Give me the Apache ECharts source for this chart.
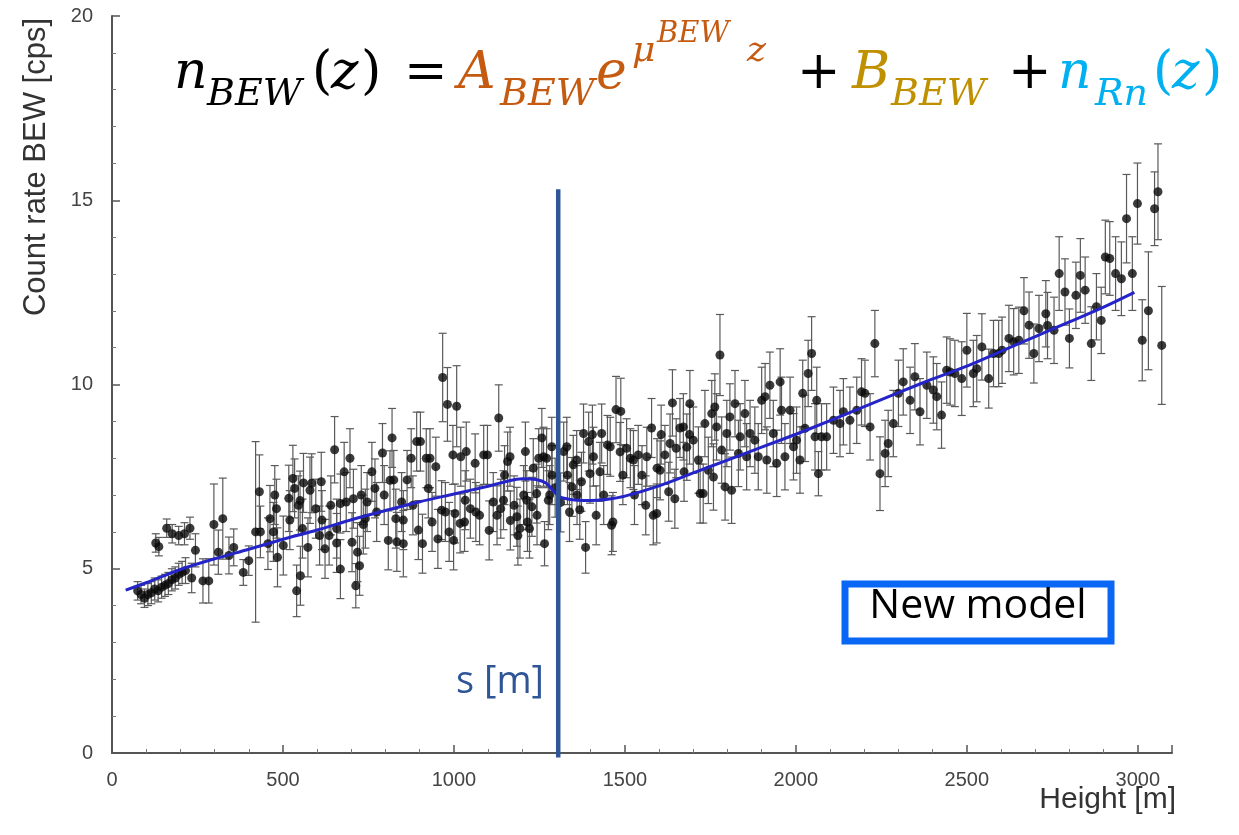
<!DOCTYPE html>
<html>
<head>
<meta charset="utf-8">
<script src="https://cdn.jsdelivr.net/npm/echarts@6/dist/echarts.min.js"></script>
<style>
html,body{margin:0;padding:0;background:#fff;}
#chart{width:1239px;height:835px;}
</style>
</head>
<body>
<div id="chart"></div>
<script>
// ---- Data ----
const heights = [
  75,85,95,105,115,125,135,145,155,165,175,185,195,205,215,233,128,137,160,176,195,212,228,244,266,283,298,
  311,324,342,356,384,400,420,431,434,456,462,476,481,484,501,517,529,534,540,545,
  551,557,573,579,584,596,607,612,623,635,640,651,657,668,679,685,696,702,713,718,
  724,729,741,746,760,769,774,791,796,808,819,824,830,847,852,863,875,880,891,902,
  908,919,925,930,936,947,953,964,967,975,981,986,997,1003,1008,1020,1031,1036,1048,1064,
  1075,1087,1098,1103,1115,1126,1131,1137,1148,1157,1165,1176,1187,1193,1204,1209,1215,1221,1232,1243,
  1248,1257,1265,1271,1280,1287,1296,1312,
  1321,1332,1338,1349,1360,1368,1373,1385,1394,1405,1416,1427,1438,1449,1461,1465,1474,1488,1494,1505,
  1516,1528,1539,1550,1561,1578,1583,1594,1606,1617,1628,1639,1646,1650,1661,1673,1689,
  1671,1681,1690,1700,1715,1720,1729,1734,1744,1754,1759,1763,1768,1778,1783,1793,1798,1807,1812,1822,
  1832,1837,1851,1856,1866,1880,1890,1900,1910,1915,1924,1934,1944,1954,1958,1968,1983,1993,2002,2012,
  2020,2027,2036,2046,2056,2061,2066,2075,2090,2110,2129,2139,2158,2178,2192,2202,2217,2231,2246,2261,
  2270,2285,2300,2314,2334,2348,2363,2383,2402,2412,2426,2441,2451,2465,
  2485,2500,2519,2529,2544,2564,2578,2593,2603,2623,2637,2652,2667,2682,2696,2711,2731,2736,2755,2770,
  2787,2800,2819,2832,2846,2864,2879,2893,2905,2918,2935,2952,2967,2984,2999,3013,3031,3049,3059,3070,
  833,852,896,999,1018,1033,1062,1145,1164,1184,1213,1228,1242,1262,1276,1286,
  1330,1345,1359,1379,1398,1408,1432,1457,1486,1525,1564,1593,1603,1632,
  472,520,550,560,614,657,668,706,735,813
];
const rates = [
  4.4,4.3,4.2,4.3,4.35,4.45,4.4,4.5,4.55,4.6,4.7,4.75,4.85,4.9,4.95,4.75,5.7,5.6,6.1,5.95,5.9,5.95,6.1,5.5,4.67,4.67,6.2,
  5.45,6.36,5.36,5.58,4.9,5.22,6.0,7.09,6.0,5.68,6.36,7.0,6.63,5.31,5.63,6.91,7.45,7.18,4.4,6.72,
  4.81,6.09,5.58,7.13,7.32,6.63,5.9,7.36,5.54,5.9,6.72,8.23,6.09,4.99,7.63,6.81,8.0,5.72,4.54,5.45,
  5.08,7.0,6.36,6.81,7.63,7.18,6.54,8.14,7.0,5.77,8.55,7.41,6.36,6.81,5.68,7.41,8.0,6.72,8.45,8.45,
  5.68,8.0,7.18,8.0,6.27,7.77,5.81,6.59,10.19,6.54,9.46,6.0,8.09,6.5,9.41,8.04,6.27,8.18,6.63,6.54,
  6.45,8.09,8.09,6.04,6.81,6.45,9.09,6.63,7.54,7.91,6.31,6.72,5.9,6.09,7.0,8.18,6.27,6.09,7.73,6.45,
  8.0,8.55,5.68,8.0,7.0,7.54,7.2,6.8,
  8.18,7.54,6.54,7.82,7.0,6.6,7.36,5.58,8.45,8.64,6.45,7.63,7.0,8.36,6.18,6.27,9.32,9.27,7.54,8.27,
  8.0,7.0,8.09,7.54,6.72,8.82,6.45,7.73,8.64,8.09,7.09,9.5,6.9,8.27,8.82,7.63,8.64,
  8.85,8.3,9.48,8.49,7.95,7.04,7.04,8.94,7.67,9.21,7.49,9.39,8.85,10.8,8.22,7.22,8.67,9.12,7.13,9.48,
  8.13,8.58,9.21,8.04,8.67,8.49,8.04,9.57,9.67,7.95,9.98,8.67,7.86,10.07,9.3,8.04,9.3,8.31,8.49,7.95,
  9.76,8.81,10.3,10.84,8.58,9.57,7.58,8.58,8.58,9.03,8.94,9.26,9.03,9.3,9.8,9.76,8.85,11.11,7.58,8.13,
  8.4,8.94,9.76,10.07,9.57,10.21,9.26,9.98,9.85,9.67,9.17,10.39,10.34,10.3,
  10.16,10.93,10.3,10.43,11.02,10.16,10.84,10.84,10.93,11.25,11.16,11.2,12.0,11.61,10.84,11.52,11.92,11.6,11.47,13.01,
  12.51,11.25,12.42,12.96,12.56,11.11,12.11,11.74,13.46,13.42,13.01,12.87,14.5,13.01,14.91,11.2,12.0,14.77,15.23,11.06,
  5.73,6.32,6.05,5.77,6.23,6.86,7.86,6.86,8.04,6.41,6.86,6.68,7.04,8.04,6.86,8.31,
  8.31,7.22,7.95,8.67,7.58,8.04,8.67,8.31,8.17,7.95,8.04,6.5,7.67,8.4,
  6.0,6.32,6.85,7.33,6.32,5.7,6.77,6.9,6.2,7.4
];
const errors = [
  .25,.25,.25,.3,.3,.3,.3,.3,.3,.3,.3,.3,.3,.3,.35,.4,.25,.25,.25,.25,.25,.3,.3,.45,.6,.6,1.1,
  .6,1.1,.5,.5,.35,.4,2.45,1.0,.7,.7,.9,.8,.8,.8,.8,.9,.9,.8,.7,.8,
  .8,.8,.8,.9,.8,.8,.8,.8,.8,.8,.8,.9,.8,.8,.8,.8,.8,.8,.6,.8,
  .8,.8,.8,.8,.8,.8,.8,.8,.8,.8,.8,.8,.8,.8,.9,.8,.8,.8,.8,.8,
  .8,.8,.8,.8,.8,.8,.8,.8,1.2,.8,1.0,.8,.8,.8,1.1,.8,.8,.8,.8,.8,
  .8,.8,.8,.8,.8,.8,.9,.8,.8,.8,.8,.8,.8,.8,.8,.8,.8,.8,.8,.8,
  .8,.8,.6,.8,.8,.8,.8,.8,
  .8,.8,.8,.8,.8,.8,.8,.7,.8,.8,.8,.8,.8,.8,.8,.8,.9,.9,.8,.8,
  .8,.8,.8,.8,.8,.8,.8,.8,.8,.8,.8,.9,.8,.8,.8,.8,.8,
  .9,.9,.9,.9,.9,.8,.8,.9,.9,.9,.9,.9,.9,1.1,.9,.9,.9,.9,.9,.9,
  .9,.9,.9,.9,.9,.9,.9,.9,.9,.9,.9,.9,.9,.9,.9,.9,.9,.9,.9,.9,
  .9,.9,.9,1.0,.9,.9,.6,.9,.9,.9,.9,.9,.9,.9,.9,.9,.9,.9,1.0,.9,
  .9,.9,.9,.9,.9,.9,.9,.9,.9,.9,.9,.9,.9,.9,
  1.0,1.0,.9,.9,.9,.8,.9,.9,.9,.9,.9,.9,.9,.9,.8,.9,.9,.9,.9,1.0,
  .9,.8,.9,1.0,.9,1.0,.9,.9,1.0,1.0,1.0,1.0,1.2,1.0,1.1,1.1,1.6,1.0,1.3,1.6,
  .8,.8,.8,.8,.8,.8,.8,.8,.8,.8,.8,.8,.8,.8,.8,.8,
  .8,.8,.8,.8,.8,.8,.8,.8,.8,.8,.8,.8,.8,.8,
  .8,.8,.8,.8,.8,.8,.8,.8,.8,.8
];
const fitHeights = [40,100,200,300,400,500,600,700,800,900,1000,1100,1150,1200,1240,1270,1290,1310,1340,1380,1420,1460,1500,1600,1700,1800,1900,2000,2100,2200,2300,2400,2500,2600,2700,2800,2900,2990];
const fitRates   = [4.42,4.62,4.98,5.27,5.53,5.8,6.05,6.33,6.58,6.82,7.03,7.24,7.36,7.44,7.42,7.32,7.12,6.95,6.88,6.85,6.86,6.9,6.97,7.25,7.6,7.95,8.3,8.65,9.02,9.4,9.78,10.15,10.5,10.9,11.3,11.7,12.1,12.5];
const sHeight = 1305;
const sLineRates = [-0.12, 15.3];

// ---- Build series data ----
const points = heights.map((h, i) => [h, rates[i]]);
const bars = heights.map((h, i) => [h, rates[i] - errors[i], rates[i] + errors[i]]);
const fit = fitHeights.map((h, i) => [h, fitRates[i]]);
const sLine = sLineRates.map(r => [sHeight, r]);

const chart = echarts.init(document.getElementById('chart'), null, {renderer: 'canvas'});

const axisColor = '#555';
const labelStyle = {color: '#444', fontSize: 20, fontFamily: 'Liberation Sans, Arial, sans-serif'};

function txt(x, y, text, size, color, opts) {
  opts = opts || {};
  return {
    type: 'text', x: x, y: y, rotation: opts.rotation || 0, z: 100,
    style: {
      text: text,
      font: (opts.italic === false ? '' : 'italic ') + size + 'px ' + (opts.family || '"DejaVu Serif", serif'),
      fill: color,
      textAlign: opts.align || 'left', align: opts.align || 'left',
      textVerticalAlign: 'middle', verticalAlign: 'middle'
    }
  };
}

const MAIN = 52, SUB = 38, MU = 36, SS = 29;
const cBlack = '#000000', cOr = '#C55A11', cGold = '#BF9000', cCyan = '#00B0F0';
const base = (b, f) => b - 0.35 * f;
const yMain = base(93, MAIN), ySub = base(108, SUB), yMu = base(64, MU), ySS = base(45, SS), yZ = base(64, MU);
const up = {italic: false};

const formula = [
  txt(174, yMain, 'n', MAIN, cBlack),
  txt(207, ySub, 'BEW', SUB, cBlack),
  txt(312, yMain, '(', MAIN, cBlack, up),
  txt(331, yMain, 'z', MAIN, cBlack),
  txt(361, yMain, ')', MAIN, cBlack, up),
  txt(404, yMain, '=', MAIN, cBlack, up),
  txt(458, yMain, 'A', MAIN, cOr),
  txt(500, ySub, 'BEW', SUB, cOr),
  txt(596, yMain, 'e', MAIN, cOr),
  txt(632, yMu, 'μ', MU, cOr),
  txt(657, ySS, 'BEW', SS, cOr),
  txt(747, yZ, 'z', MU, cOr),
  txt(797, yMain, '+', MAIN, cBlack, up),
  txt(852, yMain, 'B', MAIN, cGold),
  txt(891, ySub, 'BEW', SUB, cGold),
  txt(1008, yMain, '+', MAIN, cBlack, up),
  txt(1058, yMain, 'n', MAIN, cCyan),
  txt(1095, ySub, 'Rn', SUB, cCyan),
  txt(1153, yMain, '(', MAIN, cCyan, up),
  txt(1172, yMain, 'z', MAIN, cCyan),
  txt(1202, yMain, ')', MAIN, cCyan, up)
];

const option = {
  backgroundColor: '#fff',
  animation: false,
  grid: {left: 112, right: 67, top: 16, bottom: 82, containLabel: false},
  xAxis: {
    type: 'value', min: 0, max: 3100, interval: 500,
    axisLine: {show: true, onZero: false, lineStyle: {color: axisColor, width: 2}},
    axisTick: {show: true, inside: true, length: 8, lineStyle: {color: axisColor, width: 1.5}},
    minorTick: {show: true, splitNumber: 5, length: 4, lineStyle: {color: '#777', width: 1}},
    axisLabel: Object.assign({margin: 17, showMaxLabel: false, formatter: v => String(v)}, labelStyle),
    splitLine: {show: false}
  },
  yAxis: {
    type: 'value', min: 0, max: 20, interval: 5,
    axisLine: {show: true, onZero: false, lineStyle: {color: axisColor, width: 2}},
    axisTick: {show: true, inside: true, length: 8, lineStyle: {color: axisColor, width: 1.5}},
    minorTick: {show: true, splitNumber: 5, length: 4, lineStyle: {color: '#777', width: 1}},
    axisLabel: Object.assign({margin: 19, formatter: v => String(v)}, labelStyle),
    splitLine: {show: false}
  },
  series: [
    {
      type: 'custom', name: 'errors', data: bars, encode: {x: 0, y: [1, 2]}, z: 2,
      renderItem: function (params, api) {
        const x = api.value(0);
        const p1 = api.coord([x, api.value(1)]);
        const p2 = api.coord([x, api.value(2)]);
        const w = 4;
        const st = {stroke: '#5a5a5a', lineWidth: 1.2};
        return {type: 'group', children: [
          {type: 'line', shape: {x1: p1[0], y1: p1[1], x2: p2[0], y2: p2[1]}, style: st},
          {type: 'line', shape: {x1: p1[0] - w, y1: p1[1], x2: p1[0] + w, y2: p1[1]}, style: st},
          {type: 'line', shape: {x1: p2[0] - w, y1: p2[1], x2: p2[0] + w, y2: p2[1]}, style: st}
        ]};
      }
    },
    {
      type: 'scatter', name: 'data', data: points, symbol: 'circle', symbolSize: 9, z: 3,
      itemStyle: {color: '#0a0a0a'}
    },
    {
      type: 'line', name: 'fit', data: fit, smooth: 0.3, showSymbol: false, z: 4,
      lineStyle: {color: '#2424c8', width: 3}
    },
    {
      type: 'line', name: 's', data: sLine, showSymbol: false, z: 5, clip: false,
      lineStyle: {color: '#2F5597', width: 4.5}
    }
  ],
  graphic: [
    txt(36, 167, 'Count rate BEW [cps]', 31, '#333', {italic: false, family: '"Liberation Sans", Arial, sans-serif', align: 'center', rotation: Math.PI / 2}),
    txt(1176, 800, 'Height [m]', 30, '#333', {italic: false, family: '"Liberation Sans", Arial, sans-serif', align: 'right'}),
    txt(544, 682, 's [m]', 38, '#2F5597', {italic: false, family: '"Open Sans", "Noto Sans", sans-serif', align: 'right'}),
    {
      type: 'rect', z: 50,
      shape: {x: 845, y: 584, width: 266, height: 57},
      style: {fill: '#fff', stroke: '#0A66F5', lineWidth: 7}
    },
    txt(978, 606, 'New model', 41, '#000', {italic: false, family: '"Open Sans", "Noto Sans", sans-serif', align: 'center'})
  ].concat(formula)
};

chart.setOption(option);
</script>
</body>
</html>
